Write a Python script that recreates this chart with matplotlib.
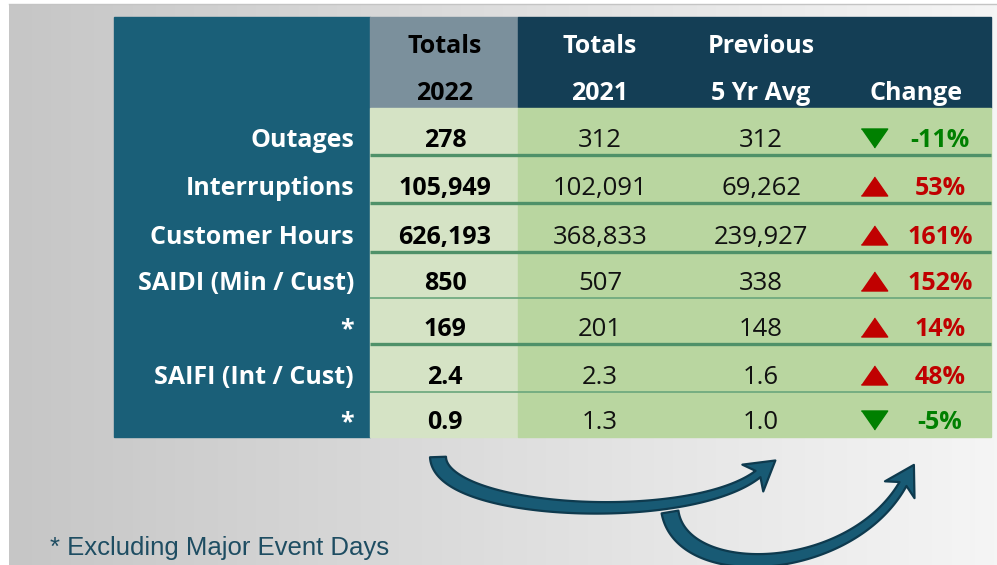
import matplotlib
matplotlib.use('Agg')
import matplotlib.pyplot as plt
import numpy as np
from matplotlib.patches import Rectangle, Polygon
from matplotlib.colors import LinearSegmentedColormap

# ---- table data ----
row_labels = ['Outages', 'Interruptions', 'Customer Hours', 'SAIDI (Min / Cust)',
              '*', 'SAIFI (Int / Cust)', '*']
totals_2022 = [278, 105949, 626193, 850, 169, 2.4, 0.9]
totals_2021 = [312, 102091, 368833, 507, 201, 2.3, 1.3]
avg_5yr = [312, 69262, 239927, 338, 148, 1.6, 1.0]
change_pct = [-11, 53, 161, 152, 14, 48, -5]
row_decimals = [0, 0, 0, 0, 0, 1, 1]
header_top = ['Totals', 'Totals', 'Previous', '']
header_bottom = ['2022', '2021', '5 Yr Avg', 'Change']
footnote = '* Excluding Major Event Days'

# ---- layout (pixel coords) ----
W, H = 997, 565
tab_left, lab_right, c22_right, tab_right = 114, 370, 518, 991
tab_top, head_bot = 17, 108
row_bounds = [108, 155, 203, 252, 298, 344, 392, 437]
thick_after = [0, 1, 2, 4]
col_x = [445, 600, 761, 916]
tri_x, pct_x = 874, 940

C_LAB = '#1a5f78'
C_H22 = '#7b909c'
C_HEAD = '#143e55'
C_D22 = '#d5e3c5'
C_DATA = '#b9d6a0'
C_LINE = '#4f9169'
C_RED = '#c00000'
C_GREEN = '#008000'

FONT = 'Open Sans'
FS = 18
FS_NUM = 18.5

fig = plt.figure(figsize=(W / 100, H / 100), dpi=100)
ax = fig.add_axes([0, 0, 1, 1])
ax.set_xlim(0, W)
ax.set_ylim(H, 0)
ax.axis('off')

# background gradient
grad = np.linspace(0, 1, 256)[None, :]
bg_cmap = LinearSegmentedColormap.from_list('bg', ['#c6c6c6', '#dedede', '#f5f5f5'])
ax.imshow(grad, cmap=bg_cmap, extent=[9, W, H, 4], aspect='auto', zorder=0)
ax.plot([9, W], [4, 4], color='#c4c4c4', lw=1, zorder=1)

# table blocks
bot = row_bounds[-1]
ax.add_patch(Rectangle((tab_left, tab_top), lab_right - tab_left, bot - tab_top, color=C_LAB, zorder=2))
ax.add_patch(Rectangle((lab_right, tab_top), c22_right - lab_right, head_bot - tab_top, color=C_H22, zorder=2))
ax.add_patch(Rectangle((c22_right, tab_top), tab_right - c22_right, head_bot - tab_top, color=C_HEAD, zorder=2))
ax.add_patch(Rectangle((lab_right, head_bot), c22_right - lab_right, bot - head_bot, color=C_D22, zorder=2))
ax.add_patch(Rectangle((c22_right, head_bot), tab_right - c22_right, bot - head_bot, color=C_DATA, zorder=2))

for i in range(len(row_bounds) - 2):
    y = row_bounds[i + 1]
    if i in thick_after:
        ax.plot([lab_right, tab_right], [y, y], color=C_LINE, lw=2.4, zorder=3, solid_capstyle='butt')
    else:
        ax.plot([lab_right, tab_right], [y, y], color='#6aa67c', lw=1.2, zorder=3, solid_capstyle='butt')

# headers
for j in range(4):
    colr = 'black' if j == 0 else 'white'
    ax.text(col_x[j], 53, header_top[j], ha='center', va='baseline', fontsize=FS,
            fontweight='bold', color=colr, family=FONT, zorder=4)
    ax.text(col_x[j], 100, header_bottom[j], ha='center', va='baseline', fontsize=FS,
            fontweight='bold', color=colr, family=FONT, zorder=4)


def fmt(v, d):
    return f'{v:,.{d}f}'


tri_marker = [(-1, -0.72), (1, -0.72), (0, 0.72)]
for i, lab in enumerate(row_labels):
    yb = row_bounds[i + 1] - 8
    ax.text(lab_right - 16, yb, lab, ha='right', va='baseline', fontsize=FS,
            fontweight='bold', color='white', family=FONT, zorder=4)
    ax.text(col_x[0], yb, fmt(totals_2022[i], row_decimals[i]), ha='center', va='baseline',
            fontsize=FS, fontweight='bold', color='black', family=FONT, zorder=4)
    ax.text(col_x[1], yb, fmt(totals_2021[i], row_decimals[i]), ha='center', va='baseline',
            fontsize=FS_NUM, color='#111111', family=FONT, zorder=4)
    ax.text(col_x[2], yb, fmt(avg_5yr[i], row_decimals[i]), ha='center', va='baseline',
            fontsize=FS_NUM, color='#111111', family=FONT, zorder=4)
    up = change_pct[i] > 0
    c = C_RED if up else C_GREEN
    m = tri_marker if up else [(x, -y) for x, y in tri_marker]
    ax.plot(tri_x, yb - 9, marker=m, ms=19, color=c, linestyle='none', zorder=4)
    ax.text(pct_x, yb, f'{change_pct[i]}%', ha='center', va='baseline', fontsize=FS,
            fontweight='bold', color=c, family=FONT, zorder=4)


# curved arrows
def cubic(p, t):
    p = np.asarray(p, float)
    t = t[:, None]
    return ((1 - t) ** 3) * p[0] + 3 * ((1 - t) ** 2) * t * p[1] + 3 * (1 - t) * t ** 2 * p[2] + t ** 3 * p[3]


def cubic_d(p, t):
    p = np.asarray(p, float)
    t = t[:, None]
    return 3 * ((1 - t) ** 2) * (p[1] - p[0]) + 6 * (1 - t) * t * (p[2] - p[1]) + 3 * t ** 2 * (p[3] - p[2])


def curved_arrow(ctrl, w0, w1, hl, hw):
    t = np.linspace(0, 1, 120)
    pts = cubic(ctrl, t)
    d = cubic_d(ctrl, t)
    d = d / np.linalg.norm(d, axis=1)[:, None]
    n = np.stack([-d[:, 1], d[:, 0]], axis=1)
    w = (w0 + (w1 - w0) * t)[:, None] / 2
    left = pts + n * w
    right = pts - n * w
    tip = pts[-1] + d[-1] * hl
    back = pts[-1] - d[-1] * hl * 0.3
    verts = np.vstack([left, [back + n[-1] * hw / 2], [tip], [back - n[-1] * hw / 2], right[::-1]])
    ax.add_patch(Polygon(verts, closed=True, facecolor='#185a74', edgecolor='#0e3a4e',
                         lw=1.6, joinstyle='round', zorder=5))


curved_arrow([(438, 457), (440, 515), (690, 527), (758, 474)], 16, 8, 22, 34)
curved_arrow([(670, 512), (682, 584), (850, 577), (903, 484)], 17, 8, 22, 34)

ax.text(50, 555, footnote, ha='left', va='baseline', fontsize=18.5, color='#1e4d62',
        family='Liberation Sans', zorder=4)

fig.savefig('out.png', dpi=100)
